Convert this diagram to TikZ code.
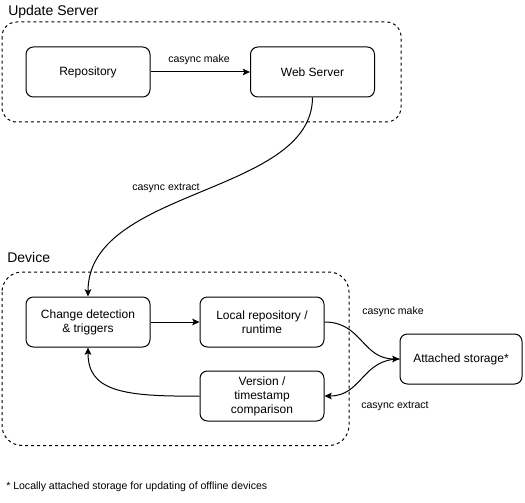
\documentclass[tikz,border=0pt]{standalone}
\usepackage{fontspec}
\setmainfont{Liberation Sans}
\usetikzlibrary{arrows.meta}

\begin{document}
\begin{tikzpicture}[x=0.75pt,y=-0.75pt,
  box/.style={draw,line width=0.75pt,rounded corners=5.5pt,minimum width=93pt,minimum height=37.5pt,align=center,inner sep=1pt,font=\fontsize{9}{10.5}\selectfont},
  container/.style={draw,line width=0.75pt,dash pattern=on 2.25pt off 2.25pt,rounded corners=11pt},
  title/.style={anchor=west,inner sep=0pt,font=\fontsize{10.5}{12}\selectfont},
  lbl/.style={inner sep=0pt,font=\fontsize{7.9}{9}\selectfont},
  flow/.style={line width=0.75pt,-{Stealth[length=5.5pt,width=5pt,inset=1.2pt]}}]
\useasboundingbox (0,0) rectangle (525,503);

% Containers
\draw[container] (2,22) rectangle (401,122);
\draw[container,rounded corners=15pt] (2,272) rectangle (349,445.5);
\node[title] (srvtitle) at (8,12) {Update Server};
\node[title] (devtitle) at (7,257) {Device};

% Server side
\node[box] (repo) at (88,72) {Repository};
\node[box] (web) at (312.5,72) {Web Server};

% Device side
\node[box] (detect) at (88,322) {Change detection\\\& triggers};
\node[box] (local) at (262,322) {Local repository /\\runtime};
\node[box] (version) at (262,396) {Version /\\timestamp\\comparison};
\node[box,minimum width=91.5pt] (storage) at (461,359) {Attached storage*};

% Connectors
\draw[flow] (repo) -- (web);
\draw[flow] (web.south) .. controls (312,195) and (88,188) .. (detect.north);
\draw[flow] (detect) -- (local);
\draw[flow] (local.east) .. controls (362,322) and (362,359) .. (storage.west);
\draw[flow] (storage.west) .. controls (362,359) and (362,396) .. (version.east);
\draw[flow] (version.west) .. controls (120,397) and (88,390) .. (detect.south);

% Labels
\node[lbl] (lmake) at (199,60) {casync make};
\node[lbl] (lextract) at (166,188) {casync extract};
\node[lbl] (smake) at (393,312) {casync make};
\node[lbl] (sextract) at (395,406) {casync extract};
\node[lbl,anchor=west] (note) at (6,487) {* Locally attached storage for updating of offline devices};
\end{tikzpicture}
\end{document}
